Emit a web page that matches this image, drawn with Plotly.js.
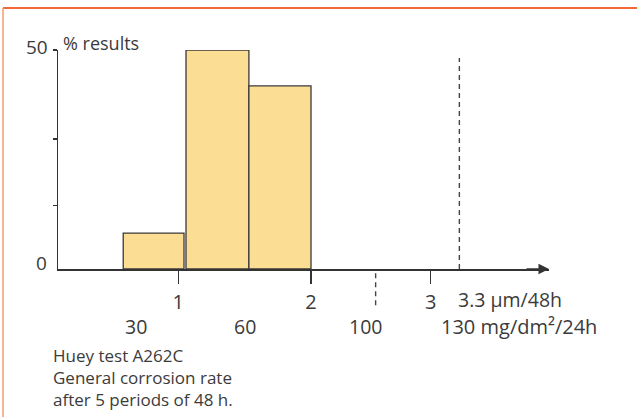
<!DOCTYPE html>
<html>
<head>
<meta charset="utf-8">
<script src="https://cdn.plot.ly/plotly-3.0.1.min.js"></script>
<style>html,body{margin:0;padding:0;background:#fff;}#chart{width:637px;height:417px;}</style>
</head>
<body>
<div id="chart"></div>
<script>
// Histogram bins (x in µm/48h as drawn), % of results
const binLeft = [0.585, 1.058, 1.532];
const binRight = [1.043, 1.532, 2.0];
const pctResults = [8.2, 50, 41.8];

// Axis ticks (µm/48h row)
const umTickPos = [1, 2, 2.902];
const umTickText = ['1', '2', '3'];
const umLimitPos = 3.118;          // 3.3 µm/48h limit (dashed line)
const umLimitLabel = '3.3 µm/48h';

// Second row (mg/dm²/24h)
const mgTickPos = [0.681, 1.503, 2.407];
const mgTickText = ['30', '60', '100'];
const mgDashedTickPos = 2.487;     // dashed tick for 100
const mgLimitPos = 2.987;
const mgLimitLabel = '130 mg/dm²/24h';

// Y ticks
const yMinorTicks = [14.5, 29.7, 50];
const yLabels = ['0', '50'];
const yLabelPos = [0, 50];

const caption = ['Huey test A262C', 'General corrosion rate', 'after 5 periods of 48 h.'];

const FONT = 'Open Sans, Noto Sans, sans-serif';
const TXT = '#3b3b3b';
const AX = '#333333';

const centers = binLeft.map((l, i) => (l + binRight[i]) / 2);
const widths = binLeft.map((l, i) => binRight[i] - l);

const trace = {
  type: 'bar',
  x: centers,
  y: pctResults,
  width: widths,
  marker: {color: '#fbdd93', line: {color: '#3a3a3a', width: 1.3}},
  hoverinfo: 'skip',
  cliponaxis: false
};

const annotations = [];
// y labels
const yShifts = [6, 3.5];
const yX = [-9, -8];
yLabels.forEach((t, i) => annotations.push({
  x: 0, xref: 'paper', xanchor: 'right', xshift: yX[i],
  y: yLabelPos[i], yref: 'y', yanchor: 'middle', yshift: yShifts[i],
  text: t, showarrow: false, font: {family: FONT, size: 19, color: TXT}
}));
// y title
annotations.push({
  x: 0, xref: 'paper', xanchor: 'left', xshift: 3,
  y: 50, yref: 'y', yanchor: 'middle', yshift: 7,
  text: '% results', showarrow: false, font: {family: FONT, size: 18, color: TXT}
});
// limit label row 1
annotations.push({
  x: umLimitPos, xref: 'x', xanchor: 'left', xshift: -3,
  y: 0, yref: 'y', yanchor: 'middle', yshift: -30,
  text: umLimitLabel, showarrow: false, font: {family: FONT, size: 19.5, color: TXT}
});
// row 2
mgTickPos.forEach((p, i) => annotations.push({
  x: p, xref: 'x', xanchor: 'center',
  y: 0, yref: 'y', yanchor: 'middle', yshift: -57,
  text: mgTickText[i], showarrow: false, font: {family: FONT, size: 19.5, color: TXT}
}));
annotations.push({
  x: mgLimitPos, xref: 'x', xanchor: 'left', xshift: -3,
  y: 0, yref: 'y', yanchor: 'middle', yshift: -57,
  text: mgLimitLabel, showarrow: false, font: {family: FONT, size: 20, color: TXT}
});
// caption (one block, three lines)
annotations.push({
  x: 0, xref: 'paper', xanchor: 'left', xshift: -7,
  y: 0, yref: 'y', yanchor: 'middle', yshift: -108,
  align: 'left',
  text: caption.join('<br>'), showarrow: false, font: {family: FONT, size: 17, color: TXT}
});
// arrowhead on x axis
annotations.push({
  x: 1, xref: 'paper', y: 0, yref: 'y',
  ax: -24, ay: 0, axref: 'pixel', ayref: 'pixel',
  showarrow: true, arrowhead: 2, arrowsize: 1.4, arrowwidth: 1.5, arrowcolor: AX, text: ''
});

const shapes = [
  // limit dashed line
  {type: 'line', xref: 'x', yref: 'y', x0: umLimitPos, x1: umLimitPos, y0: 0, y1: 48.2,
   line: {color: '#444', width: 1.4, dash: '5px,4px'}},
  // dashed tick at 100
  {type: 'line', xref: 'x', yref: 'paper', x0: mgDashedTickPos, x1: mgDashedTickPos, y0: -0.165, y1: 0,
   line: {color: '#444', width: 1.4, dash: '5px,4px'}},
  // orange frame (top & left)
  {type: 'line', xref: 'paper', yref: 'paper', x0: -0.112, x1: 1.2, y0: 1.192, y1: 1.192,
   line: {color: '#f36a36', width: 2}},
  {type: 'line', xref: 'paper', yref: 'paper', x0: -0.112, x1: -0.112, y0: 1.192, y1: -0.7,
   line: {color: '#f39a78', width: 1.5}}
];

const layout = {
  width: 637, height: 417,
  margin: {l: 58, r: 88, t: 50, b: 148},
  paper_bgcolor: '#fff', plot_bgcolor: '#fff',
  showlegend: false,
  bargap: 0,
  xaxis: {
    range: [0.0934, 3.7935],
    showgrid: false, zeroline: false,
    showline: true, linecolor: AX, linewidth: 1.5,
    tickmode: 'array', tickvals: umTickPos, ticktext: umTickText,
    ticks: 'outside', ticklen: 13, tickwidth: 1.4, tickcolor: AX,
    ticklabelstandoff: 1,
    tickfont: {family: FONT, size: 20, color: TXT},
    fixedrange: true
  },
  yaxis: {
    range: [0, 50],
    showgrid: false, zeroline: false,
    showline: true, linecolor: AX, linewidth: 1.5,
    tickmode: 'array', tickvals: yMinorTicks,
    ticks: 'outside', ticklen: 4, tickwidth: 1.2, tickcolor: AX,
    showticklabels: false,
    fixedrange: true
  },
  annotations: annotations,
  shapes: shapes
};

Plotly.newPlot('chart', [trace], layout, {displayModeBar: false, staticPlot: true});
</script>
</body>
</html>
